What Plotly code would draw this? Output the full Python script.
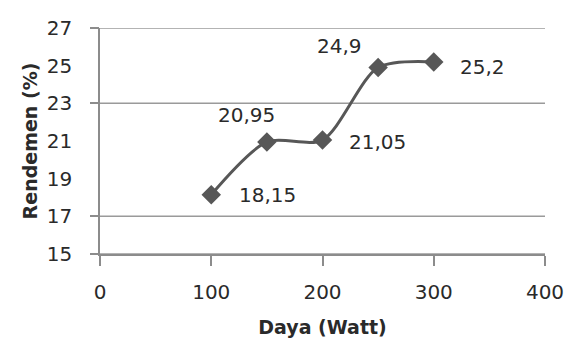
import plotly.graph_objects as go

# Power (Watt) vs yield (%)
daya = [100, 150, 200, 250, 300]
rendemen = [18.15, 20.95, 21.05, 24.9, 25.2]
label_text = ["18,15", "20,95", "21,05", "24,9", "25,2"]

y_ticks = [15, 17, 19, 21, 23, 25, 27]
grid_vals = [15, 17, 23, 27]
x_ticks = [0, 100, 200, 300, 400]

# label offsets (px) relative to each point
label_shift = [(56, 0), (-20, 27), (55, -2), (-39, 22), (49, -5)]

line_col = "#575757"
axis_col = "#8c8c8c"
grid_col = "#9a9a9a"
font_fam = "DejaVu Sans"

fig = go.Figure()
fig.add_trace(go.Scatter(
    x=daya, y=rendemen, mode="lines+markers",
    line=dict(color=line_col, width=3, shape="spline", smoothing=0.8),
    marker=dict(symbol="diamond", size=15, color=line_col),
    showlegend=False, hoverinfo="skip",
))
# invisible trace carrying the tick-mark axis
fig.add_trace(go.Scatter(x=[daya[0]], y=[rendemen[0]], yaxis="y2",
                         mode="markers", marker=dict(opacity=0),
                         showlegend=False, hoverinfo="skip"))

# horizontal gridlines
for gv in grid_vals:
    fig.add_shape(type="line", xref="paper", yref="y", x0=0, x1=1, y0=gv, y1=gv,
                  line=dict(color=grid_col, width=1.5), layer="below")

for xv, yv, txt, (dx, dy) in zip(daya, rendemen, label_text, label_shift):
    fig.add_annotation(x=xv, y=yv, text=txt, showarrow=False,
                       xshift=dx, yshift=dy,
                       font=dict(family=font_fam, size=20, color="#2a2a2a"))

fig.update_layout(
    width=565, height=342,
    margin=dict(l=100, r=20, t=28, b=88),
    paper_bgcolor="white", plot_bgcolor="white",
    font=dict(family=font_fam, size=20, color="#2a2a2a"),
    xaxis=dict(
        range=[0, 400], tickvals=x_ticks, showgrid=False, zeroline=False,
        showline=True, linecolor=axis_col, linewidth=1.5, automargin=False,
        ticks="outside", ticklen=10, tickcolor=axis_col, tickwidth=1.5,
        ticklabelstandoff=9,
        title=dict(text="<b>Daya (Watt)</b>", font=dict(size=19), standoff=18),
    ),
    yaxis=dict(
        range=[15, 27], tickvals=y_ticks, showgrid=False, zeroline=False,
        showline=True, linecolor=axis_col, linewidth=1.5, automargin=False,
        ticks="", ticklabelstandoff=22,
        title=dict(text="<b>Rendemen (%)</b>", font=dict(size=19), standoff=4),
    ),
    yaxis2=dict(
        range=[15, 27], tickvals=grid_vals, overlaying="y", side="left",
        showgrid=False, zeroline=False,
        showticklabels=False, ticks="outside", ticklen=9, automargin=False,
        tickcolor=axis_col, tickwidth=1.5,
    ),
)

fig.write_html("out.html")
